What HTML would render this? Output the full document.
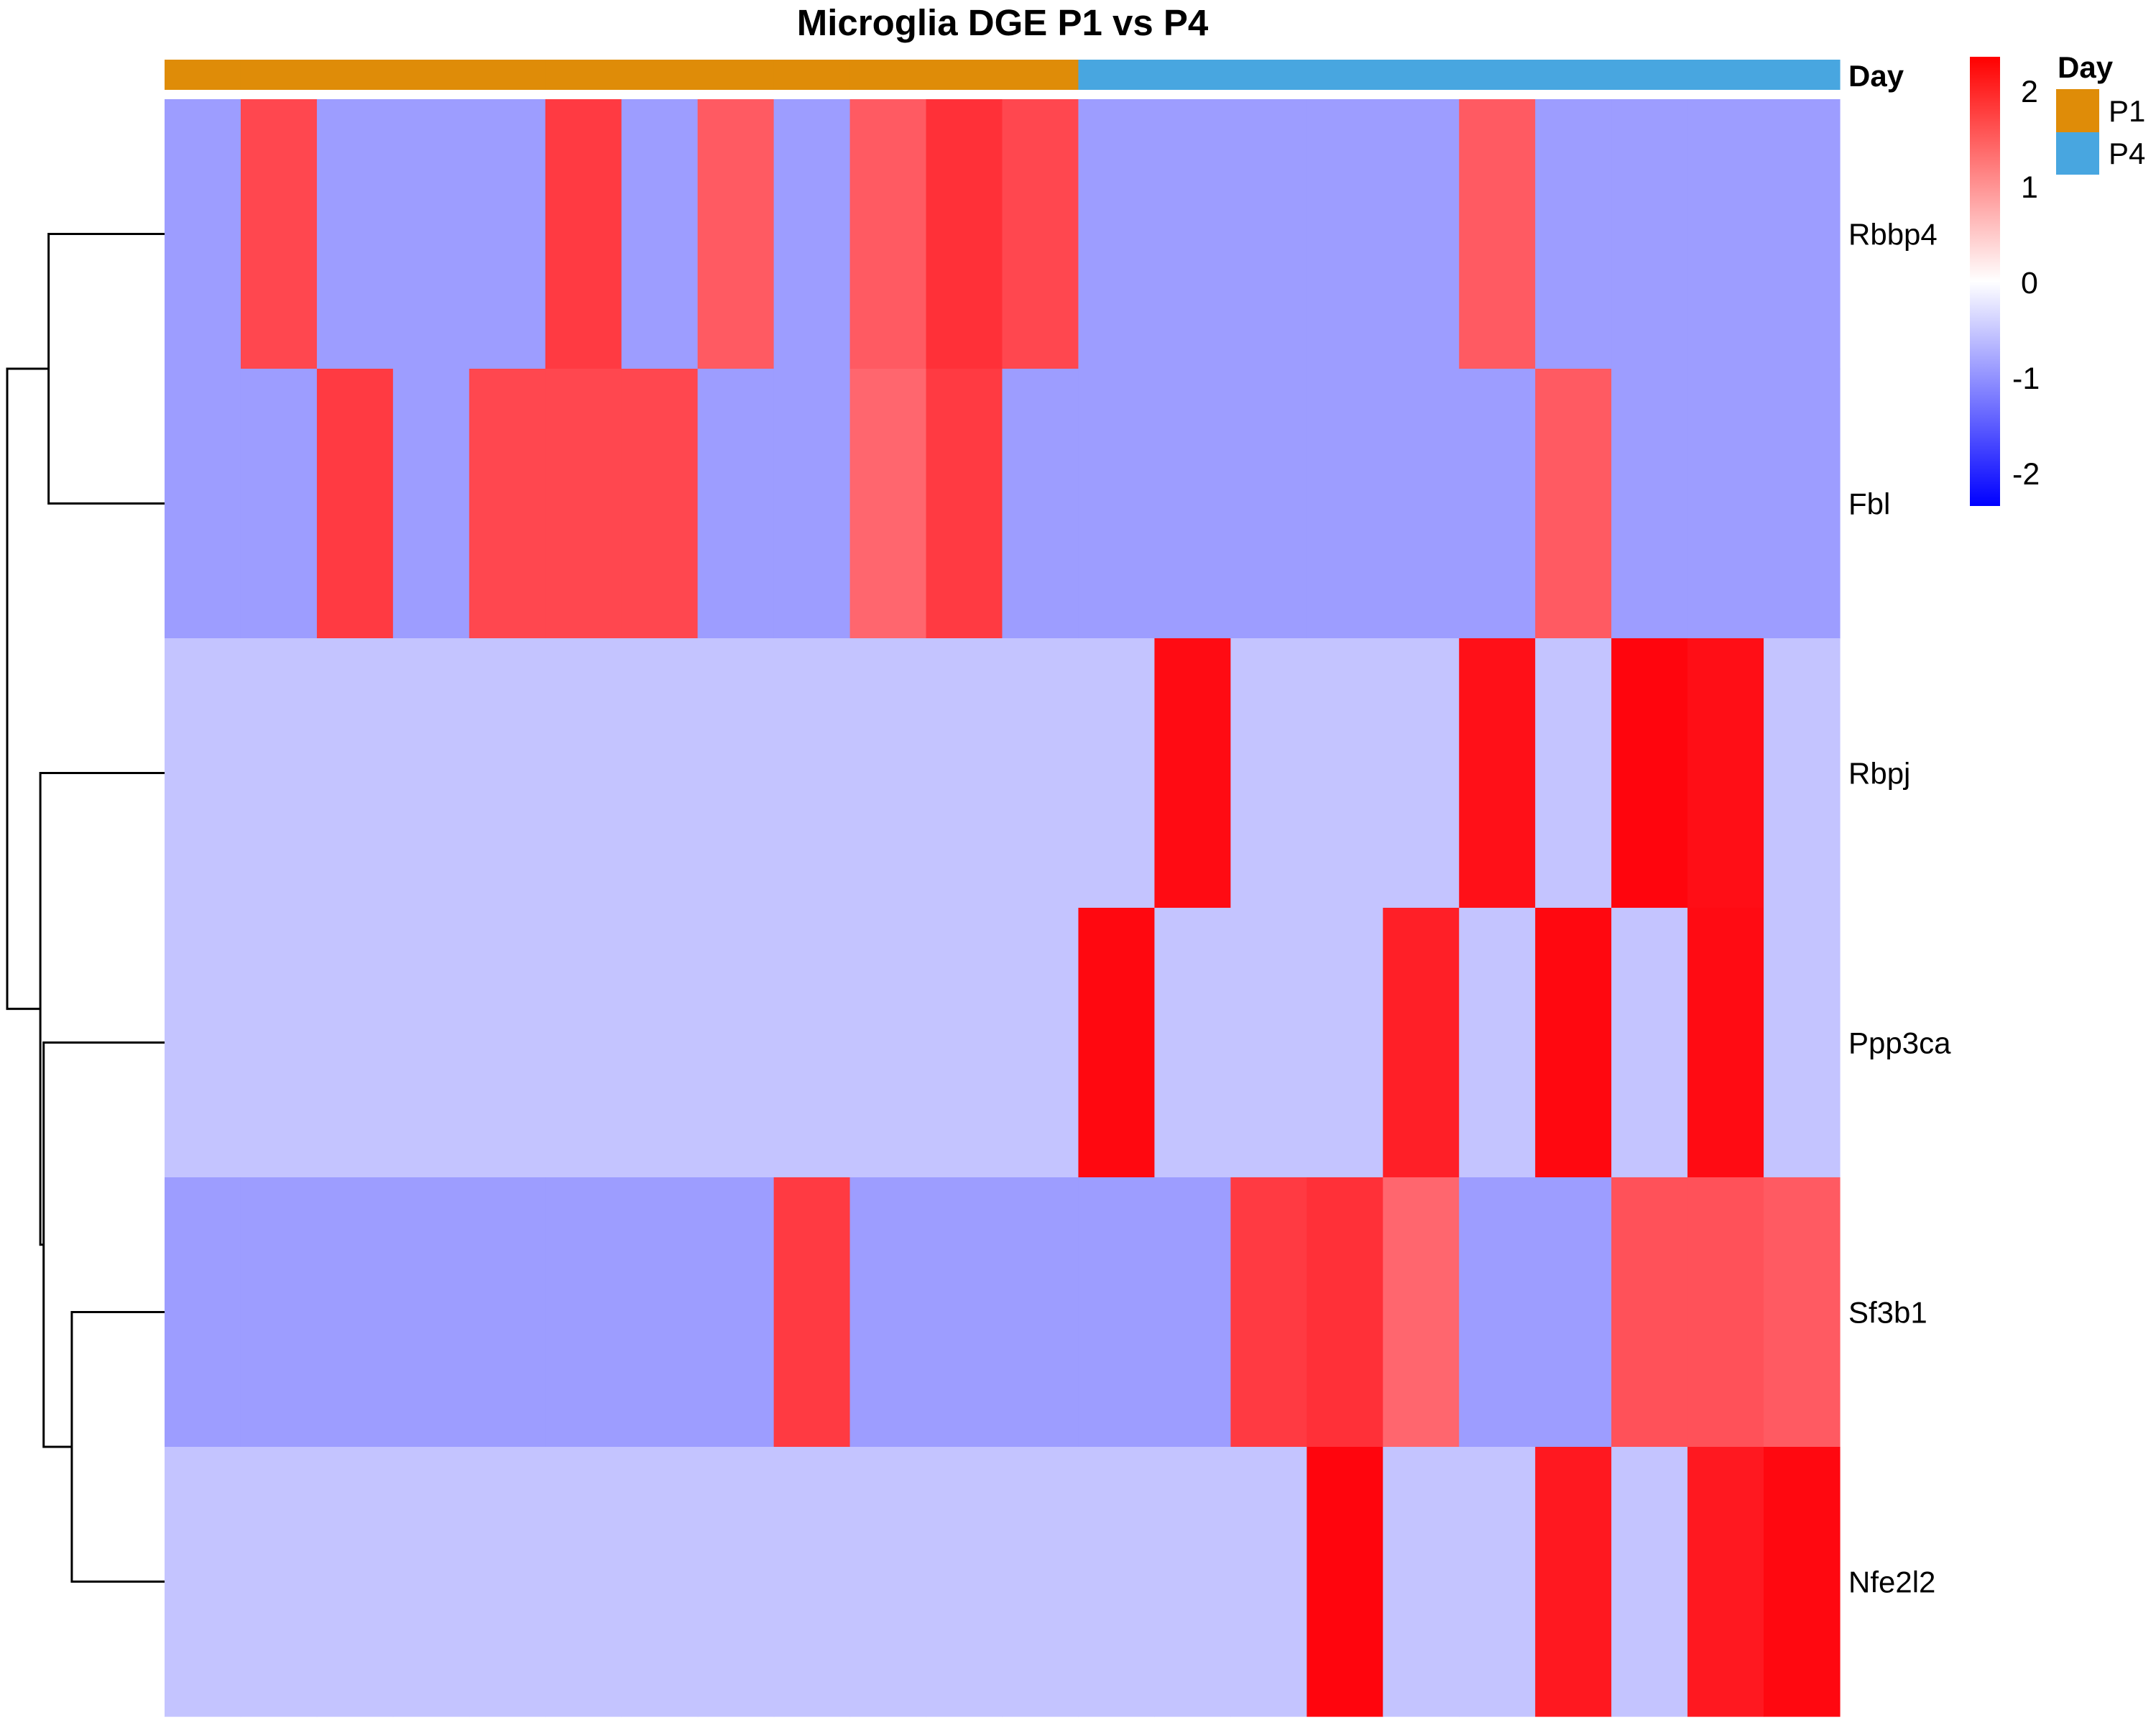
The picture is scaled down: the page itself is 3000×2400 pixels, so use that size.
<!DOCTYPE html>
<html><head><meta charset="utf-8"><style>
html,body{margin:0;padding:0;background:#fff;}
svg{display:block;font-family:"Liberation Sans",Arial,sans-serif;}
</style></head><body>
<svg id="chart" width="3000" height="2400" viewBox="0 0 3000 2400" xmlns="http://www.w3.org/2000/svg">
<defs>
<linearGradient id="cbar" x1="0" y1="0" x2="0" y2="1">
<stop offset="0" stop-color="#ff0000"/><stop offset="0.5" stop-color="#ffffff"/><stop offset="1" stop-color="#0000ff"/>
</linearGradient>
</defs>
<text x="1395" y="49" font-size="51" font-weight="bold" text-anchor="middle">Microglia DGE P1 vs P4</text>
<g id="anno"></g>
<text x="2572" y="120" font-size="42" font-weight="bold">Day</text>
<g id="cells"></g>
<g id="rowlabels"></g>
<g id="dendro" stroke="#000" stroke-width="3" fill="none"></g>
<rect x="2741" y="79" width="42" height="625" fill="url(#cbar)"/>
<g id="cbticks" font-size="43"></g>
<text x="2863" y="108" font-size="42" font-weight="bold">Day</text>
<rect x="2861" y="124" width="60" height="60" fill="#df8c08"/>
<rect x="2861" y="184" width="60" height="59" fill="#48a6e0"/>
<text x="2934" y="169" font-size="42">P1</text>
<text x="2934" y="228" font-size="42">P4</text>
</svg>
<script>
const genes = ["Rbbp4","Fbl","Rbpj","Ppp3ca","Sf3b1","Nfe2l2"];
const dayGroups = ["P1","P1","P1","P1","P1","P1","P1","P1","P1","P1","P1","P1","P4","P4","P4","P4","P4","P4","P4","P4","P4","P4"];
const B = -0.9, L = -0.54;
const rowRbbp4 = [B,1.7,B,B,B,1.82,B,1.52,B,1.52,1.91,1.7,B,B,B,B,B,1.52,B,B,B,B];
const rowFbl = [B,B,1.82,B,1.7,1.7,1.7,B,B,1.41,1.82,B,B,B,B,B,B,B,1.52,B,B,B];
const rowRbpj = [L,L,L,L,L,L,L,L,L,L,L,L,L,2.25,L,L,L,2.2,L,2.3,2.22,L];
const rowPpp3ca = [L,L,L,L,L,L,L,L,L,L,L,L,2.28,L,L,L,2.06,L,2.28,L,2.25,L];
const rowSf3b1 = [B,B,B,B,B,B,B,B,1.82,B,B,B,B,B,1.82,1.91,1.41,B,B,1.6,1.6,1.52];
const rowNfe2l2 = [L,L,L,L,L,L,L,L,L,L,L,L,L,L,L,2.3,L,L,2.13,L,2.13,2.28];
const colorTicks = [2,1,0,-1,-2];
// dendrogram merges: [leftNode,rightNode,height]; leaves 0..5, merged nodes 6..
const merges = [[0,1,0.7],[4,5,0.56],[3,7,0.73],[2,8,0.75],[6,9,0.95]];

const rows = [rowRbbp4,rowFbl,rowRbpj,rowPpp3ca,rowSf3b1,rowNfe2l2];
const NS="http://www.w3.org/2000/svg";
const X0=229, X1=2560, Y0=138, Y1=2388;
const nC=dayGroups.length, nR=genes.length;
const cw=(X1-X0)/nC, rh=(Y1-Y0)/nR;
const xS=i=>X0+i*cw, yS=j=>Y0+j*rh;
const vmax=2.35;
function col(v){const t=Math.min(1,Math.abs(v)/vmax);const c=Math.round(255*(1-t));return v>=0?`rgb(255,${c},${Math.min(255,c+8)})`:`rgb(${c},${c},255)`;}
function mk(tag,attrs,parent){const e=document.createElementNS(NS,tag);for(const k in attrs)e.setAttribute(k,attrs[k]);parent.appendChild(e);return e;}
const cells=document.getElementById('cells');
rows.forEach((r,j)=>r.forEach((v,i)=>{
  const e=mk('rect',{x:xS(i),y:yS(j),width:cw+0.6,height:rh+0.6,fill:col(v)},cells);
  
  
}));
const anno=document.getElementById('anno');
dayGroups.forEach((d,i)=>{
  const e=mk('rect',{x:xS(i),y:83,width:cw+0.6,height:42,fill:d==="P1"?"#df8c08":"#48a6e0"},anno);
  
  
});
const rl=document.getElementById('rowlabels');
genes.forEach((g,j)=>{
  const t=mk('text',{x:2572,y:yS(j)+rh/2+15,'font-size':42},rl);
  t.textContent=g;
  
  
});
const cb=document.getElementById('cbticks');
colorTicks.forEach(v=>{
  const t=mk('text',{x:v<0?2800:2812,y:392-v*133+16},cb);
  t.textContent=String(v);
  
  
});
const dg=document.getElementById('dendro');
const hx=h=>X0-(h/0.95)*(X0-10);
const pos={};
genes.forEach((g,j)=>pos[j]={y:yS(j)+rh/2,x:X0});
merges.forEach((m,k)=>{
  const a=pos[m[0]],b=pos[m[1]],x=hx(m[2]);
  const p=mk('path',{d:`M${a.x},${a.y}H${x}V${b.y}H${b.x}`},dg);
  
  
  pos[6+k]={x:x,y:(a.y+b.y)/2};
});
</script>
</body></html>
